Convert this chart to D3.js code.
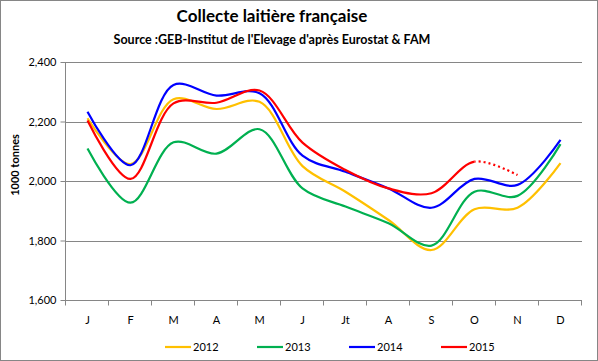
<!DOCTYPE html>
<html>
<head>
<meta charset="utf-8">
<script src="https://cdn.jsdelivr.net/npm/d3@7"></script>
<style>
  body { margin: 0; background: #fff; }
  svg { display: block; font-family: Lato, "Open Sans", sans-serif; }
</style>
</head>
<body>
<svg class="chart" width="598" height="361"></svg>
<script>
const months = ["J", "F", "M", "A", "M", "J", "Jt", "A", "S", "O", "N", "D"];
const yTicks = [1600, 1800, 2000, 2200, 2400];

const years = ["2012", "2013", "2014", "2015"];
const colors = ["#ffc000", "#00b050", "#0000ff", "#ff0000"];

const v2012 = [2211, 2057, 2275, 2242, 2266, 2050, 1964, 1869, 1768, 1905, 1910, 2060];
const v2013 = [2109, 1927, 2130, 2092, 2174, 1975, 1914, 1858, 1783, 1964, 1950, 2124];
const v2014 = [2233, 2053, 2323, 2287, 2295, 2085, 2031, 1975, 1910, 2007, 1987, 2138];
const v2015 = [2203, 2007, 2261, 2263, 2304, 2129, 2037, 1975, 1959, 2065, 2020];
// the last 2015 point is an estimate, drawn dotted
const lastSolid2015 = 9;

const series = [v2012, v2013, v2014, v2015];

const svg = d3.select(".chart");
const W = 598, H = 361;
const m = { left: 66, right: 582, top: 62, bottom: 300 };

svg.append("rect")
  .attr("x", 0.5).attr("y", 0.5)
  .attr("width", W - 1).attr("height", H - 1)
  .attr("fill", "#fff").attr("stroke", "#868686");

const x = d3.scaleBand().domain(d3.range(12)).range([m.left, m.right]).padding(0);
const y = d3.scaleLinear().domain([1600, 2400]).range([m.bottom, m.top]);
const cx = i => x(i) + x.bandwidth() / 2;

// gridlines
svg.append("g")
  .selectAll("line")
  .data(yTicks.slice(1))
  .join("line")
    .attr("x1", m.left).attr("x2", m.right)
    .attr("y1", d => Math.round(y(d)) + 0.5)
    .attr("y2", d => Math.round(y(d)) + 0.5)
    .attr("stroke", "#868686");

// y axis
const yAxis = svg.append("g")
  .attr("transform", `translate(${m.left - 0.5},0)`)
  .call(d3.axisLeft(y).tickValues(yTicks).tickFormat(d3.format(",")).tickSize(5).tickPadding(4));
yAxis.select(".domain").attr("stroke", "#868686").attr("d", `M0,${m.top}V${m.bottom}`);
yAxis.selectAll(".tick line").attr("stroke", "#868686");
yAxis.selectAll("text").attr("font-size", 11).attr("fill", "#000")
  .style("font-family", "Lato, 'Open Sans', sans-serif");

// x axis
const xAxisG = svg.append("g").attr("transform", `translate(0,${m.bottom + 0.5})`);
xAxisG.append("line")
  .attr("x1", m.left - 1).attr("x2", m.right)
  .attr("stroke", "#868686");
xAxisG.selectAll(".tk")
  .data(d3.range(13))
  .join("line")
    .attr("class", "tk")
    .attr("x1", i => Math.round(m.left + i * x.bandwidth()) - 0.5)
    .attr("x2", i => Math.round(m.left + i * x.bandwidth()) - 0.5)
    .attr("y1", 0).attr("y2", 5)
    .attr("stroke", "#868686");
xAxisG.selectAll(".lbl")
  .data(months)
  .join("text")
    .attr("class", "lbl")
    .attr("x", (d, i) => cx(i))
    .attr("y", 23)
    .attr("text-anchor", "middle")
    .attr("font-size", 11)
    .text(d => d);

// lines
const line = d3.line()
  .x((d, i) => cx(i))
  .y(d => y(d))
  .curve(d3.curveCatmullRom.alpha(0.5));

const defs = svg.append("defs");
defs.append("clipPath").attr("id", "solid15")
  .append("rect").attr("x", 0).attr("y", 0).attr("width", cx(lastSolid2015)).attr("height", H);
defs.append("clipPath").attr("id", "dot15")
  .append("rect").attr("x", cx(lastSolid2015)).attr("y", 0).attr("width", W).attr("height", H);

const lines = svg.append("g").attr("fill", "none").attr("stroke-width", 2.2);
series.forEach((vals, k) => {
  if (k === 3) {
    lines.append("path")
      .attr("d", line(vals))
      .attr("stroke", colors[k])
      .attr("clip-path", "url(#solid15)");
    lines.append("path")
      .attr("d", line(vals))
      .attr("stroke", colors[k])
      .attr("stroke-dasharray", "2,3")
      .attr("clip-path", "url(#dot15)");
  } else {
    lines.append("path")
      .attr("d", line(vals))
      .attr("stroke", colors[k]);
  }
});

// titles
svg.append("text")
  .attr("x", 272).attr("y", 22)
  .attr("text-anchor", "middle")
  .attr("font-size", 17).attr("font-weight", "bold")
  .text("Collecte laitière française");
svg.append("text")
  .attr("x", 272).attr("y", 44)
  .attr("text-anchor", "middle")
  .attr("font-size", 12.5).attr("font-weight", "bold")
  .text("Source :GEB-Institut de l'Elevage d'après Eurostat & FAM");

svg.append("text")
  .attr("transform", "translate(19,165) rotate(-90)")
  .attr("text-anchor", "middle")
  .attr("font-size", 11).attr("font-weight", "bold")
  .text("1000 tonnes");

// legend
const legend = svg.append("g").attr("transform", "translate(165,347)");
const item = legend.selectAll("g")
  .data(years)
  .join("g")
    .attr("transform", (d, i) => `translate(${i * 92},0)`);
item.append("line")
  .attr("x1", 0).attr("x2", 26)
  .attr("stroke", (d, i) => colors[i])
  .attr("stroke-width", 2.2);
item.append("text")
  .attr("x", 28).attr("y", 4)
  .attr("font-size", 11)
  .text(d => d);
</script>
</body>
</html>
